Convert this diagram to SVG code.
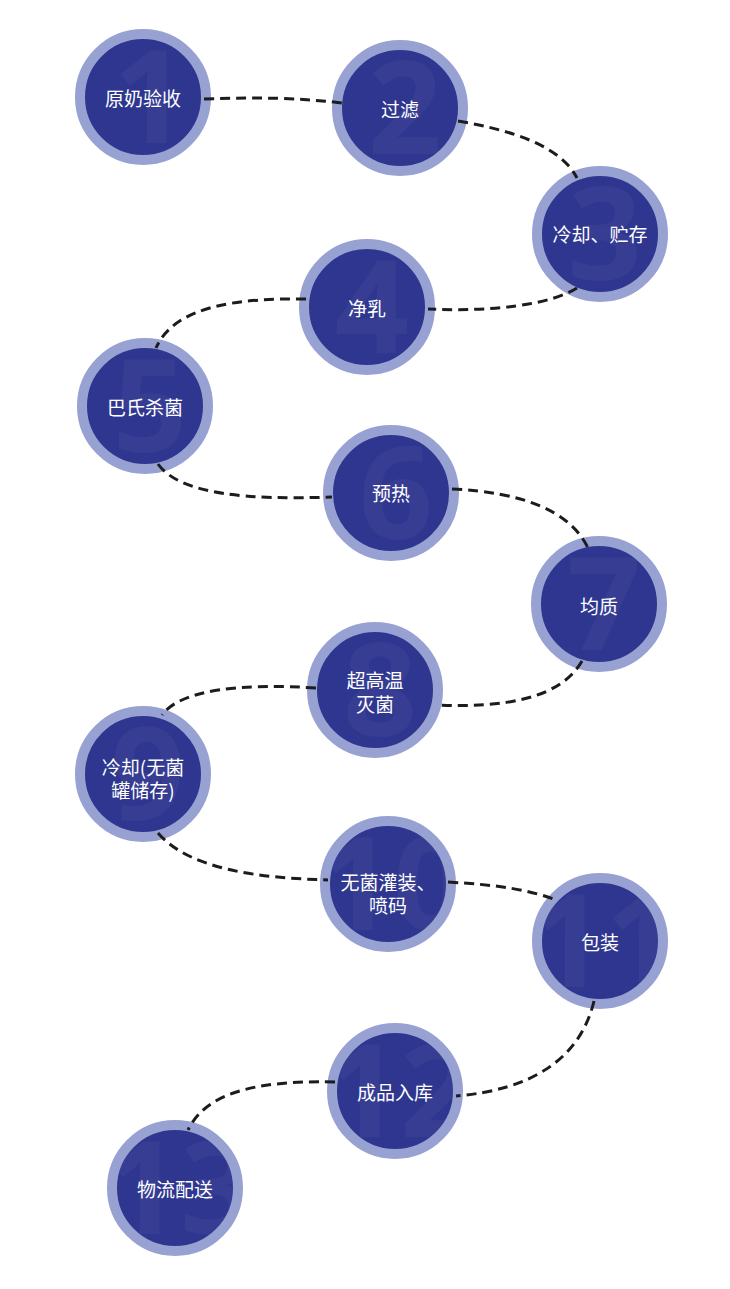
<svg xmlns="http://www.w3.org/2000/svg" width="730" height="1289" viewBox="0 0 730 1289">
<style>
.core{fill:#2e368f}
.ring{fill:none;stroke:#98a2d2;stroke-width:10}
.num{font-family:"Open Sans","Liberation Sans",sans-serif;font-weight:700;font-size:130px;fill:#ffffff;fill-opacity:0.04;text-anchor:middle}
.lbl{font-family:"Noto Sans CJK SC","Noto Sans",sans-serif;font-size:19px;fill:#ffffff;text-anchor:middle;dominant-baseline:central}
.con{fill:none;stroke:#1c1c1c;stroke-width:3;stroke-dasharray:10 6}
</style>
<rect width="730" height="1289" fill="#ffffff"/>
<g id="n1"><circle class="core" cx="143" cy="97" r="60"/><text class="num" x="150" y="143">1</text><circle class="ring" cx="143" cy="97" r="63"/><text class="lbl" x="143" y="97">原奶验收</text></g>
<g id="n2"><circle class="core" cx="400" cy="108" r="60"/><text class="num" x="405" y="154">2</text><circle class="ring" cx="400" cy="108" r="63"/><text class="lbl" x="400" y="108">过滤</text></g>
<g id="n3"><circle class="core" cx="600" cy="234" r="60"/><text class="num" x="605" y="280">3</text><circle class="ring" cx="600" cy="234" r="63"/><text class="lbl" x="600" y="233">冷却、贮存</text></g>
<g id="n4"><circle class="core" cx="367" cy="307" r="60"/><text class="num" x="372" y="353">4</text><circle class="ring" cx="367" cy="307" r="63"/><text class="lbl" x="367" y="307">净乳</text></g>
<g id="n5"><circle class="core" cx="145" cy="406" r="60"/><text class="num" x="150" y="452">5</text><circle class="ring" cx="145" cy="406" r="63"/><text class="lbl" x="145" y="406">巴氏杀菌</text></g>
<g id="n6"><circle class="core" cx="391" cy="493" r="60"/><text class="num" x="396" y="539">6</text><circle class="ring" cx="391" cy="493" r="63"/><text class="lbl" x="391" y="492">预热</text></g>
<g id="n7"><circle class="core" cx="599" cy="604" r="60"/><text class="num" x="604" y="650">7</text><circle class="ring" cx="599" cy="604" r="63"/><text class="lbl" x="599" y="605">均质</text></g>
<g id="n8"><circle class="core" cx="375" cy="690" r="60"/><text class="num" x="380" y="736">8</text><circle class="ring" cx="375" cy="690" r="63"/><text class="lbl" x="375" y="679">超高温</text><text class="lbl" x="375" y="703">灭菌</text></g>
<g id="n9"><circle class="core" cx="143" cy="774" r="60"/><text class="num" x="148" y="820">9</text><circle class="ring" cx="143" cy="774" r="63"/><text class="lbl" x="143" y="766">冷却(无菌</text><text class="lbl" x="143" y="789">罐储存)</text></g>
<g id="n10"><circle class="core" cx="388" cy="884" r="60"/><text class="num" x="393" y="930">10</text><circle class="ring" cx="388" cy="884" r="63"/><text class="lbl" x="388" y="881">无菌灌装、</text><text class="lbl" x="388" y="904">喷码</text></g>
<g id="n11"><circle class="core" cx="600" cy="941" r="60"/><text class="num" x="605" y="987">11</text><circle class="ring" cx="600" cy="941" r="63"/><text class="lbl" x="600" y="941">包装</text></g>
<g id="n12"><circle class="core" cx="395" cy="1091" r="60"/><text class="num" x="400" y="1137">12</text><circle class="ring" cx="395" cy="1091" r="63"/><text class="lbl" x="395" y="1091">成品入库</text></g>
<g id="n13"><circle class="core" cx="175" cy="1188" r="60"/><text class="num" x="180" y="1234">13</text><circle class="ring" cx="175" cy="1188" r="63"/><text class="lbl" x="175" y="1188">物流配送</text></g>
<g id="connectors">
<path class="con" d="M204,99 C260,97 300,98 342,103"/>
<path class="con" d="M458,121 C510,130 560,145 577,178"/>
<path class="con" d="M577,288 C550,305 490,312 428,309"/>
<path class="con" d="M306,299 C240,298 175,305 156,348"/>
<path class="con" d="M158,464 C180,495 250,500 332,497"/>
<path class="con" d="M452,489 C520,492 570,510 588,548"/>
<path class="con" d="M582,661 C560,700 500,708 436,705"/>
<path class="con" d="M316,688 C240,683 180,690 162,715"/>
<path class="con" d="M158,833 C190,870 260,878 328,880"/>
<path class="con" d="M448,882 C500,885 530,890 556,900"/>
<path class="con" d="M594,1001 C580,1060 530,1090 456,1096"/>
<path class="con" d="M335,1082 C250,1080 205,1095 188,1130"/>
</g>
</svg>
